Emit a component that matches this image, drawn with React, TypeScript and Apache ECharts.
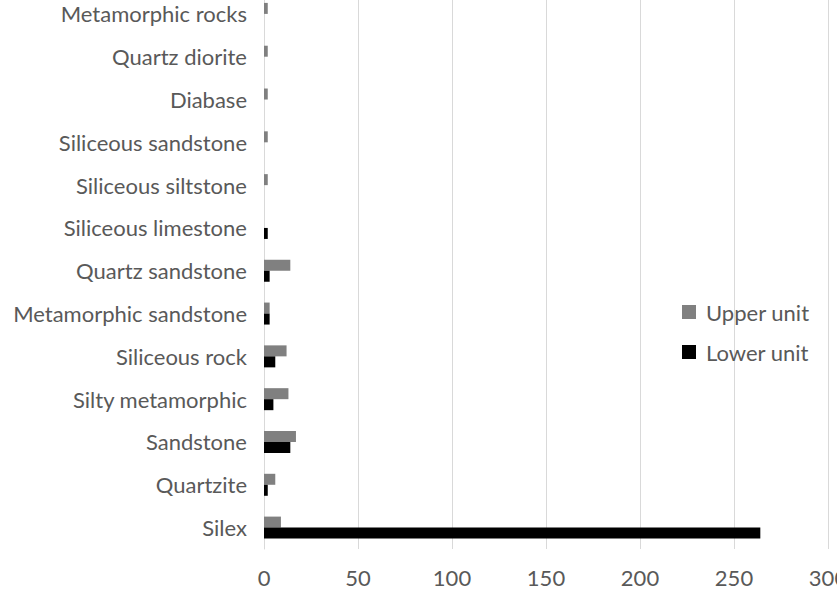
import React, { useEffect, useRef } from "react";
import * as echarts from "echarts";

const categories = [
  "Silex",
  "Quartzite",
  "Sandstone",
  "Silty metamorphic",
  "Siliceous rock",
  "Metamorphic sandstone",
  "Quartz sandstone",
  "Siliceous limestone",
  "Siliceous siltstone",
  "Siliceous sandstone",
  "Diabase",
  "Quartz diorite",
  "Metamorphic rocks",
];
const upperUnit = [9, 6, 17, 13, 12, 3, 14, 0, 2, 2, 2, 2, 2];
const lowerUnit = [264, 2, 14, 5, 6, 3, 3, 2, 0, 0, 0, 0, 0];
const xTicks = { min: 0, max: 300, interval: 50 };

const FONT = "Lato, 'Open Sans', sans-serif";
const FS = 22;

export default function App() {
  const ref = useRef<HTMLDivElement>(null);
  useEffect(() => {
    if (!ref.current) return;
    const chart = echarts.init(ref.current, undefined, { renderer: "svg" });
    chart.setOption({
      animation: false,
      backgroundColor: "#ffffff",
      textStyle: { fontFamily: FONT },
      grid: {
        left: 264,
        right: 9,
        top: -7.5,
        bottom: 41,
        containLabel: false,
        outerBoundsMode: "none",
      },
      legend: {
        orient: "vertical",
        left: 677,
        top: 295,
        padding: 5,
        itemWidth: 14,
        itemHeight: 14,
        itemGap: 16,
        icon: "rect",
        data: ["Upper unit", "Lower unit"],
        textStyle: {
          fontFamily: FONT,
          fontSize: FS,
          lineHeight: 22,
          color: "#595959",
          padding: [2, 0, 0, 5],
        },
      },
      xAxis: {
        type: "value",
        min: xTicks.min,
        max: xTicks.max,
        interval: xTicks.interval,
        axisLine: { show: false },
        axisTick: { show: false },
        splitLine: { show: true, lineStyle: { color: "#d9d9d9", width: 1 } },
        axisLabel: {
          fontFamily: FONT,
          fontSize: FS,
          lineHeight: 20,
          color: "#595959",
          margin: 18,
        },
      },
      yAxis: {
        type: "category",
        data: categories,
        axisLine: { show: true, lineStyle: { color: "#d9d9d9", width: 1 } },
        axisTick: { show: false },
        axisLabel: { fontFamily: FONT, fontSize: FS, color: "#595959", margin: 17 },
      },
      series: [
        {
          name: "Upper unit",
          type: "bar",
          data: upperUnit,
          barWidth: 11,
          barGap: "0%",
          itemStyle: { color: "#808080" },
        },
        {
          name: "Lower unit",
          type: "bar",
          data: lowerUnit,
          barWidth: 11,
          barGap: "0%",
          itemStyle: { color: "#000000" },
        },
      ],
    });
    return () => chart.dispose();
  }, []);
  return (
    <div
      ref={ref}
      style={{ position: "fixed", left: 0, top: 0, width: 837, height: 590, overflow: "hidden" }}
    />
  );
}
